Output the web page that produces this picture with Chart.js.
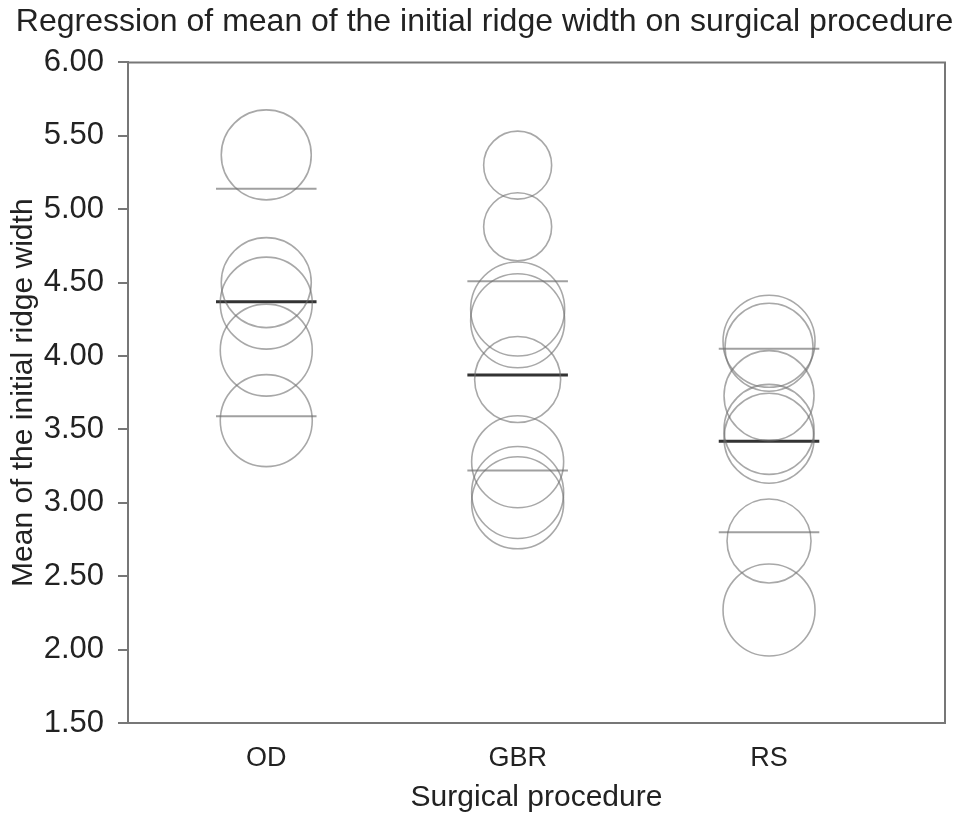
<html>
<head>
    <meta http-equiv="Content-Type" content="text/html; charset=utf-8"/>
    <title>Regression of mean of the initial ridge width</title>
    <style>
        html, body { margin: 0; padding: 0; background: #fff; overflow: hidden; }
        .chart { width: 969px; height: 823px; position: relative; }
        canvas { display: block; }
    </style>
</head>
<body>
<div class="chart">
    <canvas id="bubble"></canvas>
</div>

<script src="https://cdn.jsdelivr.net/npm/chart.js@4.4.1/dist/chart.umd.min.js"></script>
<script>
    // data
    var categories = ['OD', 'GBR', 'RS'];
    var odValues = [5.37, 4.50, 4.36, 4.04, 3.56];
    var odSizes = [45, 45, 46, 46, 46];
    var gbrValues = [5.30, 4.88, 4.32, 4.24, 3.84, 3.28, 3.07, 3.00];
    var gbrSizes = [34, 34, 47, 47, 43, 46, 46, 46];
    var rsValues = [4.10, 4.06, 3.73, 3.50, 3.44, 2.74, 2.27];
    var rsSizes = [46, 44, 45, 45, 45, 42, 46];
    var means = [4.37, 3.87, 3.42];
    var upperSD = [5.14, 4.51, 4.05];
    var lowerSD = [3.59, 3.22, 2.80];
    var yTicks = [1.5, 2.0, 2.5, 3.0, 3.5, 4.0, 4.5, 5.0, 5.5, 6.0];

    var font = "'Liberation Sans', Arial, Helvetica, sans-serif";
    var half = 0.2;

    function bubbles(values, sizes, idx) {
        return values.map(function (v, i) {
            return {x: idx + 1, y: v, r: sizes[i]};
        });
    }

    function segments(vals) {
        var pts = [];
        vals.forEach(function (v, i) {
            pts.push({x: i + 1 - half, y: v});
            pts.push({x: i + 1 + half, y: v});
            pts.push({x: i + 1.5, y: null});
        });
        return pts;
    }

    var circleStyle = {
        backgroundColor: 'rgba(0,0,0,0)',
        borderColor: 'rgba(110,110,110,0.6)',
        borderWidth: 1.6
    };

    var frame = {
        id: 'frame',
        beforeDatasetsDraw: function (chart) {
            var a = chart.chartArea, c = chart.ctx;
            c.save();
            c.strokeStyle = '#777';
            c.lineWidth = 2;
            c.beginPath();
            c.moveTo(a.left, a.top);
            c.lineTo(a.right, a.top);
            c.lineTo(a.right, a.bottom);
            c.stroke();
            c.restore();
        }
    };

    var ctx = document.getElementById('bubble').getContext('2d');
    var chart = new Chart(ctx, {
        type: 'bubble',
        data: {
            datasets: [
                Object.assign({label: 'OD', data: bubbles(odValues, odSizes, 0)}, circleStyle),
                Object.assign({label: 'GBR', data: bubbles(gbrValues, gbrSizes, 1)}, circleStyle),
                Object.assign({label: 'RS', data: bubbles(rsValues, rsSizes, 2)}, circleStyle),
                {
                    type: 'line', label: 'Mean + SD', data: segments(upperSD),
                    borderColor: 'rgba(120,120,120,0.7)', borderWidth: 2,
                    pointRadius: 0, spanGaps: false, fill: false
                },
                {
                    type: 'line', label: 'Mean - SD', data: segments(lowerSD),
                    borderColor: 'rgba(120,120,120,0.7)', borderWidth: 2,
                    pointRadius: 0, spanGaps: false, fill: false
                },
                {
                    type: 'line', label: 'Mean', data: segments(means),
                    borderColor: '#333', borderWidth: 3,
                    pointRadius: 0, spanGaps: false, fill: false
                }
            ]
        },
        options: {
            responsive: true,
            maintainAspectRatio: false,
            animation: false,
            events: [],
            layout: {autoPadding: false, padding: 0},
            plugins: {
                legend: {display: false},
                tooltip: {enabled: false},
                title: {
                    display: true,
                    text: 'Regression of mean of the initial ridge width on surgical procedure',
                    color: '#222',
                    font: {family: font, size: 32, weight: 'normal'},
                    padding: {top: 3, bottom: 21}
                }
            },
            scales: {
                x: {
                    type: 'linear',
                    min: 0.45,
                    max: 3.7,
                    afterBuildTicks: function (scale) {
                        scale.ticks = categories.map(function (c, i) { return {value: i + 1}; });
                    },
                    afterFit: function (scale) { scale.height = 100; },
                    grid: {display: false},
                    border: {display: true, color: '#777', width: 2},
                    ticks: {
                        color: '#222',
                        padding: 11,
                        font: {family: font, size: 27},
                        callback: function (v) { return categories[v - 1]; }
                    },
                    title: {
                        display: true,
                        text: 'Surgical procedure',
                        color: '#222',
                        font: {family: font, size: 30},
                        padding: {top: 0, bottom: 7}
                    }
                },
                y: {
                    type: 'linear',
                    min: 1.5,
                    max: 6,
                    afterBuildTicks: function (scale) {
                        scale.ticks = yTicks.map(function (v) { return {value: v}; });
                    },
                    afterFit: function (scale) { scale.width = 128; },
                    grid: {drawOnChartArea: false, drawTicks: true, tickLength: 10, color: '#777', lineWidth: 2},
                    border: {display: true, color: '#777', width: 2},
                    ticks: {
                        color: '#222',
                        padding: 14,
                        font: {family: font, size: 31},
                        callback: function (v) { return v.toFixed(2); }
                    },
                    title: {
                        display: true,
                        text: 'Mean of the initial ridge width',
                        color: '#222',
                        font: {family: font, size: 30},
                        padding: {top: 6, bottom: 0}
                    }
                },
                // empty strip on the right so the plot box ends where the reference does
                yRight: {
                    type: 'linear',
                    position: 'right',
                    min: 1.5,
                    max: 6,
                    afterFit: function (scale) { scale.width = 24; },
                    grid: {display: false},
                    border: {display: false},
                    ticks: {display: false}
                }
            }
        },
        plugins: [frame]
    });
</script>
</body>
</html>
